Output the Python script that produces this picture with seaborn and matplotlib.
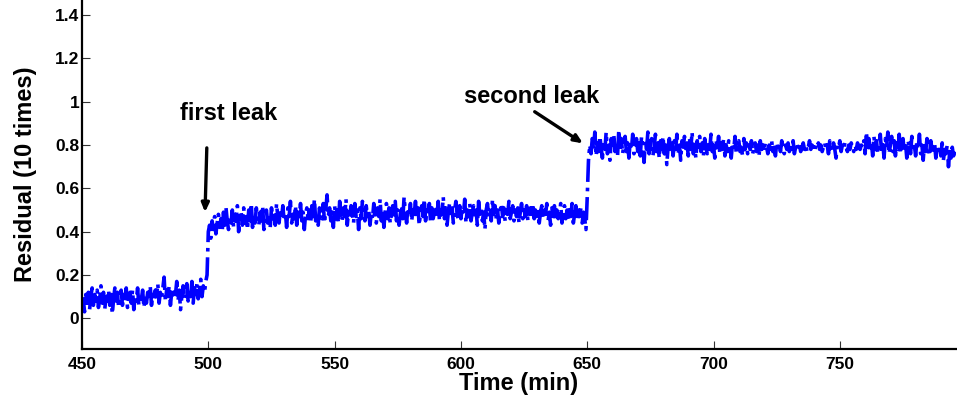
import numpy as np
import pandas as pd
import matplotlib
matplotlib.use("Agg")
import matplotlib.pyplot as plt
import seaborn as sns

# ---- data (one sample every half minute) ----
t_start = 450
t_step = 0.5
seg_before = [0.05, 0.09, 0.03, 0.11, 0.07, 0.12, 0.04, 0.10, 0.14, 0.06,
              0.11, 0.08, 0.13, 0.05, 0.09, 0.15, 0.07, 0.12, 0.04, 0.10,
              0.08, 0.13, 0.06, 0.11, 0.02, 0.09, 0.14, 0.07, 0.12, 0.05,
              0.10, 0.13, 0.06, 0.11, 0.08, 0.14, 0.05, 0.09, 0.12, 0.07,
              0.13, 0.04, 0.10, 0.08, 0.14, 0.06, 0.11, 0.09, 0.13, 0.05,
              0.10, 0.07, 0.12, 0.09, 0.15, 0.06, 0.11, 0.08, 0.13, 0.10,
              0.16, 0.07, 0.12, 0.09, 0.14, 0.19, 0.08, 0.13, 0.10, 0.15,
              0.06, 0.12, 0.09, 0.14, 0.11, 0.17, 0.08, 0.13, 0.04, 0.10,
              0.15, 0.09, 0.12, 0.16, 0.08, 0.13, 0.10, 0.17, 0.07, 0.14,
              0.11, 0.16, 0.09, 0.13, 0.18, 0.10, 0.15, 0.12, 0.17, 0.20]
seg_first = [0.40, 0.43, 0.37, 0.45, 0.41, 0.47, 0.39, 0.44, 0.48, 0.42,
             0.46, 0.40, 0.49, 0.43, 0.51, 0.45, 0.41, 0.47, 0.44, 0.50,
             0.42, 0.48, 0.45, 0.52, 0.40, 0.46, 0.49, 0.43, 0.51, 0.44,
             0.47, 0.41, 0.50, 0.45, 0.53, 0.42, 0.48, 0.44, 0.51, 0.46,
             0.43, 0.49, 0.45, 0.52, 0.41, 0.47, 0.50, 0.44, 0.48, 0.42,
             0.51, 0.46, 0.49, 0.43, 0.53, 0.47, 0.44, 0.50, 0.46, 0.52,
             0.45, 0.49, 0.42, 0.51, 0.47, 0.54, 0.44, 0.48, 0.46, 0.52,
             0.43, 0.50, 0.47, 0.53, 0.45, 0.49, 0.41, 0.48, 0.51, 0.46,
             0.50, 0.44, 0.52, 0.47, 0.55, 0.45, 0.49, 0.43, 0.51, 0.48,
             0.46, 0.53, 0.44, 0.50, 0.57, 0.47, 0.51, 0.45, 0.49, 0.42,
             0.52, 0.46, 0.50, 0.44, 0.54, 0.48, 0.45, 0.51, 0.47, 0.55,
             0.43, 0.49, 0.46, 0.52, 0.48, 0.44, 0.53, 0.47, 0.50, 0.41,
             0.51, 0.46, 0.54, 0.48, 0.45, 0.52, 0.47, 0.50, 0.43, 0.49,
             0.46, 0.53, 0.48, 0.44, 0.51, 0.47, 0.55, 0.45, 0.50, 0.42,
             0.49, 0.53, 0.46, 0.51, 0.44, 0.48, 0.52, 0.47, 0.54, 0.45,
             0.50, 0.43, 0.48, 0.52, 0.46, 0.56, 0.49, 0.44, 0.51, 0.47,
             0.53, 0.45, 0.50, 0.48, 0.54, 0.46, 0.51, 0.43, 0.49, 0.52,
             0.47, 0.55, 0.45, 0.50, 0.48, 0.53, 0.44, 0.51, 0.46, 0.49,
             0.52, 0.47, 0.54, 0.45, 0.50, 0.48, 0.56, 0.46, 0.51, 0.43,
             0.49, 0.53, 0.47, 0.51, 0.44, 0.50, 0.54, 0.48, 0.45, 0.52,
             0.46, 0.51, 0.48, 0.55, 0.44, 0.50, 0.47, 0.53, 0.45, 0.49,
             0.52, 0.46, 0.50, 0.43, 0.54, 0.48, 0.51, 0.45, 0.49, 0.41,
             0.50, 0.53, 0.47, 0.51, 0.45, 0.55, 0.48, 0.52, 0.46, 0.50,
             0.44, 0.49, 0.53, 0.47, 0.51, 0.45, 0.50, 0.48, 0.54, 0.46,
             0.49, 0.52, 0.45, 0.50, 0.47, 0.51, 0.44, 0.49, 0.53, 0.46,
             0.50, 0.47, 0.52, 0.45, 0.49, 0.51, 0.48, 0.53, 0.46, 0.50,
             0.47, 0.51, 0.44, 0.49, 0.52, 0.46, 0.50, 0.48, 0.53, 0.45,
             0.49, 0.43, 0.51, 0.47, 0.52, 0.45, 0.50, 0.46, 0.48, 0.53,
             0.44, 0.49, 0.52, 0.46, 0.50, 0.45, 0.51, 0.47, 0.53, 0.44,
             0.48, 0.52, 0.45, 0.50, 0.47, 0.51, 0.44, 0.49, 0.46, 0.41]
seg_second = [0.56, 0.73, 0.80, 0.76, 0.83, 0.78, 0.86, 0.75, 0.81, 0.77,
              0.84, 0.79, 0.74, 0.82, 0.78, 0.86, 0.76, 0.80, 0.73, 0.83,
              0.79, 0.85, 0.77, 0.81, 0.75, 0.87, 0.79, 0.83, 0.76, 0.80,
              0.84, 0.77, 0.81, 0.74, 0.82, 0.78, 0.85, 0.76, 0.80, 0.83,
              0.77, 0.81, 0.75, 0.84, 0.79, 0.72, 0.82, 0.78, 0.86, 0.76,
              0.80, 0.83, 0.75, 0.79, 0.85, 0.77, 0.81, 0.74, 0.82, 0.78,
              0.84, 0.76, 0.80, 0.71, 0.79, 0.83, 0.77, 0.81, 0.75, 0.82,
              0.78, 0.85, 0.76, 0.80, 0.73, 0.82, 0.79, 0.84, 0.77, 0.81,
              0.75, 0.83, 0.78, 0.86, 0.76, 0.80, 0.74, 0.82, 0.79, 0.84,
              0.77, 0.81, 0.75, 0.83, 0.79, 0.76, 0.82, 0.78, 0.85, 0.77,
              0.80, 0.74, 0.82, 0.79, 0.84, 0.76, 0.81, 0.78, 0.83, 0.75,
              0.80, 0.77, 0.82, 0.79, 0.74, 0.81, 0.78, 0.84, 0.76, 0.80,
              0.82, 0.77, 0.79, 0.75, 0.83, 0.78, 0.81, 0.76, 0.80, 0.78,
              0.82, 0.76, 0.79, 0.81, 0.77, 0.80, 0.75, 0.82, 0.78, 0.80,
              0.77, 0.81, 0.79, 0.76, 0.80, 0.78, 0.82, 0.77, 0.79, 0.75,
              0.81, 0.78, 0.80, 0.77, 0.82, 0.79, 0.76, 0.80, 0.78, 0.81,
              0.77, 0.80, 0.78, 0.82, 0.76, 0.79, 0.81, 0.78, 0.80, 0.77,
              0.79, 0.81, 0.78, 0.80, 0.77, 0.79, 0.82, 0.78, 0.80, 0.79,
              0.77, 0.80, 0.79, 0.81, 0.78, 0.80, 0.77, 0.79, 0.81, 0.78,
              0.80, 0.76, 0.82, 0.79, 0.77, 0.81, 0.78, 0.74, 0.80, 0.79,
              0.82, 0.77, 0.80, 0.78, 0.81, 0.79, 0.77, 0.80, 0.78, 0.81,
              0.79, 0.77, 0.80, 0.78, 0.81, 0.79, 0.78, 0.80, 0.79, 0.82,
              0.76, 0.86, 0.79, 0.83, 0.77, 0.81, 0.75, 0.84, 0.78, 0.82,
              0.76, 0.80, 0.85, 0.77, 0.81, 0.74, 0.83, 0.79, 0.86, 0.76,
              0.80, 0.84, 0.77, 0.82, 0.75, 0.81, 0.78, 0.85, 0.76, 0.80,
              0.83, 0.77, 0.81, 0.74, 0.82, 0.79, 0.76, 0.84, 0.78, 0.80,
              0.75, 0.82, 0.78, 0.85, 0.76, 0.80, 0.73, 0.81, 0.77, 0.83,
              0.79, 0.75, 0.82, 0.78, 0.76, 0.81, 0.74, 0.80, 0.77, 0.79,
              0.75, 0.81, 0.73, 0.78, 0.76, 0.80, 0.70, 0.77, 0.74, 0.79,
              0.75, 0.77]
residual = seg_before + seg_first + seg_second
time_min = [t_start + t_step * i for i in range(len(residual))]

x_ticks = [450, 500, 550, 600, 650, 700, 750]
y_ticks = [0, 0.2, 0.4, 0.6, 0.8, 1.0, 1.2, 1.4]
y_tick_labels = ["0", "0.2", "0.4", "0.6", "0.8", "1", "1.2", "1.4"]

df = pd.DataFrame({"Time (min)": time_min, "Residual": residual})

# ---- figure ----
sns.set_style("white")
plt.rcParams["font.family"] = ["Liberation Sans", "DejaVu Sans"]
plt.rcParams["font.weight"] = "bold"
plt.rcParams["text.color"] = "black"
plt.rcParams["axes.labelcolor"] = "black"

fig = plt.figure(figsize=(9.57, 3.98), dpi=100)
ax = fig.add_axes([0.0857, 0.123, 0.9133, 0.877])

sns.lineplot(data=df, x="Time (min)", y="Residual", ax=ax, estimator=None,
             color="#0000ff", linestyle="-.", linewidth=2.6)

ax.set_xlim(450, 796)
ax.set_ylim(-0.142, 1.47)
ax.set_xticks(x_ticks)
ax.set_xticklabels([str(v) for v in x_ticks])
ax.set_yticks(y_ticks)
ax.set_yticklabels(y_tick_labels)

ax.tick_params(axis="both", direction="in", length=6, width=0.8,
               color="#333333", labelsize=12.5, labelcolor="black",
               bottom=True, left=True, top=False, right=False)
ax.tick_params(axis="x", pad=5.5)
ax.tick_params(axis="y", pad=2)
for lab in ax.get_xticklabels() + ax.get_yticklabels():
    lab.set_fontweight("bold")

for side in ["top", "right"]:
    ax.spines[side].set_visible(False)
for side in ["left", "bottom"]:
    ax.spines[side].set_color("black")
    ax.spines[side].set_linewidth(1.6)

ax.set_xlabel("Time (min)", fontsize=17, fontweight="bold", labelpad=0)
ax.set_ylabel("Residual (10 times)", fontsize=17, fontweight="bold", labelpad=13)

arrow_kw = dict(arrowstyle="-|>,head_length=0.5,head_width=0.22",
                color="black", lw=2.4, shrinkA=0, shrinkB=0)
ax.annotate("", xy=(498.7, 0.49), xytext=(499.4, 0.787), arrowprops=arrow_kw)
ax.annotate("", xy=(648.3, 0.808), xytext=(629.2, 0.954), arrowprops=arrow_kw)
ax.text(508.2, 0.948, "first leak", fontsize=17, fontweight="bold",
        ha="center", va="center")
ax.text(627.9, 1.024, "second leak", fontsize=17, fontweight="bold",
        ha="center", va="center")

fig.savefig("out.png", dpi=100)
